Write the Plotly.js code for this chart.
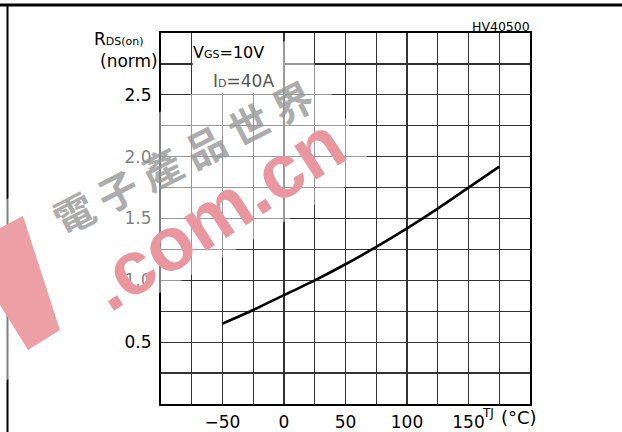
<!DOCTYPE html>
<html>
<head>
<meta charset="utf-8">
<script src="https://cdn.plot.ly/plotly-3.0.1.min.js"></script>
<style>
  html, body { margin: 0; padding: 0; background: #fff; }
  #chart { width: 622px; height: 432px; }
</style>
</head>
<body>
<div id="chart"></div>
<script>
// ---- data ----
const tj = [-50, -25, 0, 25, 50, 75, 100, 125, 150, 175];
const rdsNorm = [0.65, 0.76, 0.88, 1.0, 1.13, 1.27, 1.42, 1.58, 1.75, 1.92];

const xTickVals = [-50, 0, 50, 100, 150];
const xTickText = ['\u221250', '0', '50', '100', '150'];
const xGridVals = [-75, -50, -25, 0, 25, 50, 75, 100, 125, 150, 175];
const yTickVals = [0.5, 1.0, 1.5, 2.0, 2.5];
const yTickText = ['0.5', '1.0', '1.5', '2.0', '2.5'];
const yGridVals = [0.25, 0.5, 0.75, 1.0, 1.25, 1.5, 1.75, 2.0, 2.25, 2.5, 2.75];

const xRange = [-100, 200];
const yRange = [0, 3];

// ---- layout geometry (pixels) ----
const W = 622, H = 432;
const L = 161, R = 530, T = 33, B = 404;
function px(x) { return (x - L) / (R - L); }
function py(y) { return (B - y) / (B - T); }
function pt(x, y) { return px(x).toFixed(4) + ',' + py(y).toFixed(4); }

const FONT = 'DejaVu Sans, Verdana, sans-serif';
const GRID = '#333333';

const trace = {
  x: tj, y: rdsNorm,
  type: 'scatter', mode: 'lines',
  line: { color: '#000', width: 2.6, shape: 'spline', smoothing: 0.6 },
  hoverinfo: 'skip', showlegend: false
};

const axisCommon = {
  showgrid: true, gridcolor: GRID, gridwidth: 1.2,
  showline: true, mirror: true, linecolor: '#000', linewidth: 2,
  ticks: '', zeroline: false, fixedrange: true,
  tickfont: { family: FONT, size: 17, color: '#000' },
  tickmode: 'array'
};

const layout = {
  width: W, height: H,
  margin: { l: L, r: W - R, t: T, b: H - B, pad: 0 },
  paper_bgcolor: '#fff', plot_bgcolor: '#fff',
  showlegend: false,
  xaxis: Object.assign({}, axisCommon, {
    range: xRange, tickvals: xTickVals, ticktext: xTickText, ticklabelstandoff: 2,
    minor: { tickmode: 'array', tickvals: xGridVals, showgrid: true, gridcolor: GRID, gridwidth: 1.2, ticks: '' }
  }),
  yaxis: Object.assign({}, axisCommon, {
    range: yRange, tickvals: yTickVals, ticktext: yTickText, ticklabelstandoff: 4,
    minor: { tickmode: 'array', tickvals: yGridVals, showgrid: true, gridcolor: GRID, gridwidth: 1.2, ticks: '' }
  }),
  shapes: [
    // white box behind the condition text
    { type: 'rect', xref: 'x', yref: 'y', x0: -74.2, x1: -0.8, y0: 2.515, y1: 3.0,
      fillcolor: '#fff', line: { width: 0 }, layer: 'between' },
    // page frame lines
    { type: 'line', xref: 'paper', yref: 'paper', x0: px(0), x1: px(622), y0: py(5), y1: py(5),
      line: { color: '#000', width: 3 }, layer: 'above' },
    { type: 'line', xref: 'paper', yref: 'paper', x0: px(7.5), x1: px(7.5), y0: py(5), y1: py(432),
      line: { color: '#000', width: 2 }, layer: 'above' },
    // watermark: translucent band
    { type: 'path', xref: 'paper', yref: 'paper',
      path: 'M' + pt(0, 203) + 'L' + pt(297, 34) + 'L' + pt(375, 170) + 'L' + pt(0, 384) + 'Z',
      fillcolor: 'rgba(255,255,255,0.5)', line: { width: 0 }, layer: 'above' },
    // watermark: pink logo stroke
    { type: 'path', xref: 'paper', yref: 'paper',
      path: 'M' + pt(0, 228) + 'L' + pt(23, 216) + 'L' + pt(60, 330) + 'L' + pt(28, 350) + 'L' + pt(0, 305) + 'Z',
      fillcolor: 'rgb(236,160,166)', line: { width: 0 }, layer: 'above' }
  ],
  annotations: [
    { text: 'R<span style="font-size:11px">DS(on)</span>', xref: 'paper', yref: 'paper',
      x: px(93), y: py(50), xanchor: 'left', yanchor: 'bottom', showarrow: false, borderpad: 0,
      font: { family: FONT, size: 17, color: '#000' } },
    { text: '(norm)', xref: 'paper', yref: 'paper',
      x: px(159), y: py(50), xanchor: 'right', yanchor: 'top', showarrow: false, borderpad: 0,
      font: { family: FONT, size: 17, color: '#000' } },
    { text: 'V<span style="font-size:11px">GS</span>=10V', xref: 'paper', yref: 'paper',
      x: px(191), y: py(52), xanchor: 'left', yanchor: 'middle', showarrow: false,
      font: { family: FONT, size: 16, color: '#000' } },
    { text: 'I<span style="font-size:11px">D</span>=40A', xref: 'paper', yref: 'paper',
      x: px(211), y: py(81), xanchor: 'left', yanchor: 'middle', showarrow: false,
      font: { family: FONT, size: 17, color: '#555' } },
    { text: 'HV40500', xref: 'paper', yref: 'paper',
      x: px(532), y: py(27), xanchor: 'right', yanchor: 'middle', showarrow: false,
      font: { family: FONT, size: 12.5, color: '#000' } },
    { text: 'TJ', xref: 'paper', yref: 'paper',
      x: px(480), y: py(413), xanchor: 'left', yanchor: 'middle', showarrow: false,
      font: { family: FONT, size: 12, color: '#000' } },
    { text: '(°C)', xref: 'paper', yref: 'paper',
      x: px(539), y: py(417), xanchor: 'right', yanchor: 'middle', showarrow: false,
      font: { family: FONT, size: 18, color: '#000' } },
    // watermark text
    { text: '電 子 產 品 世 界', xref: 'paper', yref: 'paper',
      x: px(182), y: py(157), xanchor: 'center', yanchor: 'middle', showarrow: false,
      textangle: -27, font: { family: 'Noto Sans CJK TC', size: 40, color: 'rgba(150,150,150,0.8)', weight: 700 } },
    { text: '.com.cn', xref: 'paper', yref: 'paper',
      x: px(215), y: py(213), xanchor: 'center', yanchor: 'middle', showarrow: false,
      textangle: -33, font: { family: 'Liberation Sans, Arial, sans-serif', size: 76, color: 'rgb(234,150,158)', weight: 700 } }
  ]
};

Plotly.newPlot('chart', [trace], layout, { staticPlot: true, displayModeBar: false });
</script>
</body>
</html>
